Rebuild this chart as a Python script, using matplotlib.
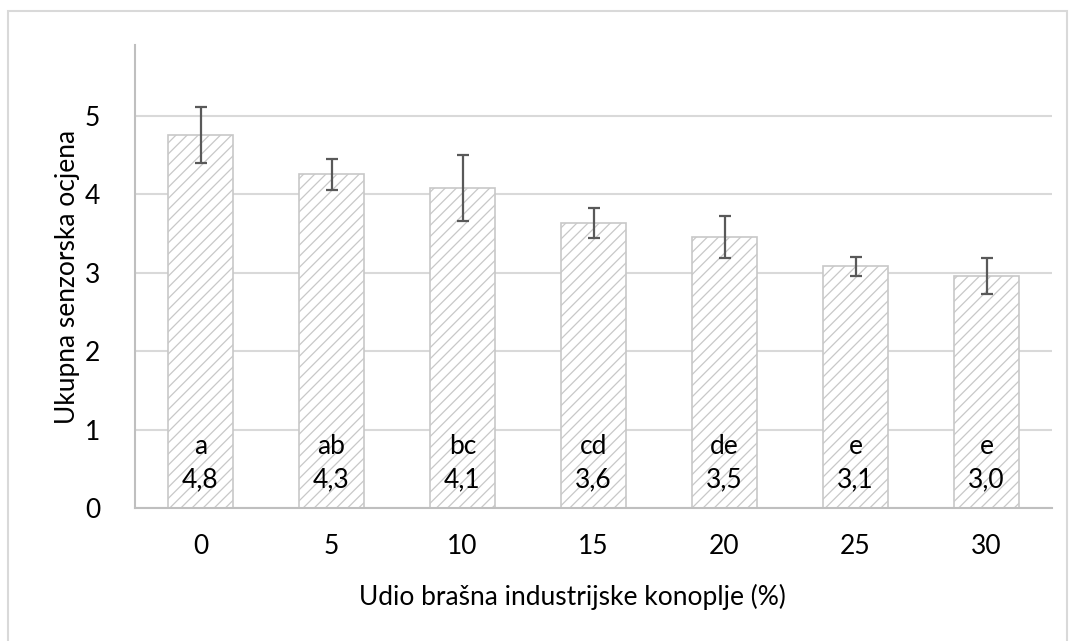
"""Bar chart: total sensory score vs. share of industrial hemp flour."""

import matplotlib

matplotlib.use("Agg")
import matplotlib.pyplot as plt
from matplotlib.patches import Rectangle

plt.rcParams["font.family"] = ["Lato", "DejaVu Sans"]
plt.rcParams["hatch.color"] = "#cdcdcd"
plt.rcParams["hatch.linewidth"] = 0.9

categories = ["0", "5", "10", "15", "20", "25", "30"]
means = [4.75, 4.25, 4.08, 3.63, 3.45, 3.08, 2.96]
errors = [0.36, 0.20, 0.42, 0.19, 0.27, 0.12, 0.23]
letters = ["a", "ab", "bc", "cd", "de", "e", "e"]
value_labels = ["4,8", "4,3", "4,1", "3,6", "3,5", "3,1", "3,0"]

GRID = "#d9d9d9"
AXIS = "#bfbfbf"
TEXT = "#000000"
FS = 19

fig = plt.figure(figsize=(10.69, 6.41), dpi=100)
ax = fig.add_axes([135 / 1069, 1 - 508 / 641, (1052 - 135) / 1069, (508 - 45) / 641])

x = list(range(len(categories)))
ax.bar(x, means, width=0.5, color="white", edgecolor="#c8c8c8",
       linewidth=1.2, hatch="///", zorder=2)
ax.errorbar(x, means, yerr=errors, fmt="none", ecolor="#595959",
            elinewidth=1.6, capsize=4.3, capthick=1.6, zorder=3)

for xi, letter, val in zip(x, letters, value_labels):
    ax.text(xi, 0.2, f"{letter}\n{val}", ha="center", va="bottom",
            fontsize=FS, color=TEXT, linespacing=1.4, zorder=4)

ax.set_xlim(-0.5, len(categories) - 0.5)
ax.set_ylim(0, 5.9)
ax.set_yticks([0, 1, 2, 3, 4, 5])
ax.set_xticks(x)
ax.set_xticklabels(categories)
ax.yaxis.grid(True, color=GRID, linewidth=1.5, zorder=0)
ax.set_axisbelow(True)
ax.tick_params(axis="both", length=0, labelsize=FS, colors=TEXT)
ax.tick_params(axis="y", pad=25)
ax.tick_params(axis="x", pad=19)

for side in ("top", "right"):
    ax.spines[side].set_visible(False)
for side in ("left", "bottom"):
    ax.spines[side].set_color(AXIS)
    ax.spines[side].set_linewidth(1.5)

ax.set_ylabel("Ukupna senzorska ocjena", fontsize=FS, color=TEXT)
ax.yaxis.set_label_coords(-0.060, 0.5)
ax.set_xlabel("Udio brašna industrijske konoplje (%)", fontsize=FS, color=TEXT)
ax.xaxis.set_label_coords(0.477, -0.163)

# light chart-area frame as in the spreadsheet export
fig.patches.append(Rectangle((8 / 1069, -0.05), (1067 - 8) / 1069, 1.05 - 11 / 641,
                             transform=fig.transFigure, fill=False,
                             edgecolor="#d9d9d9", linewidth=1.5))

fig.savefig("out.png", dpi=100)
